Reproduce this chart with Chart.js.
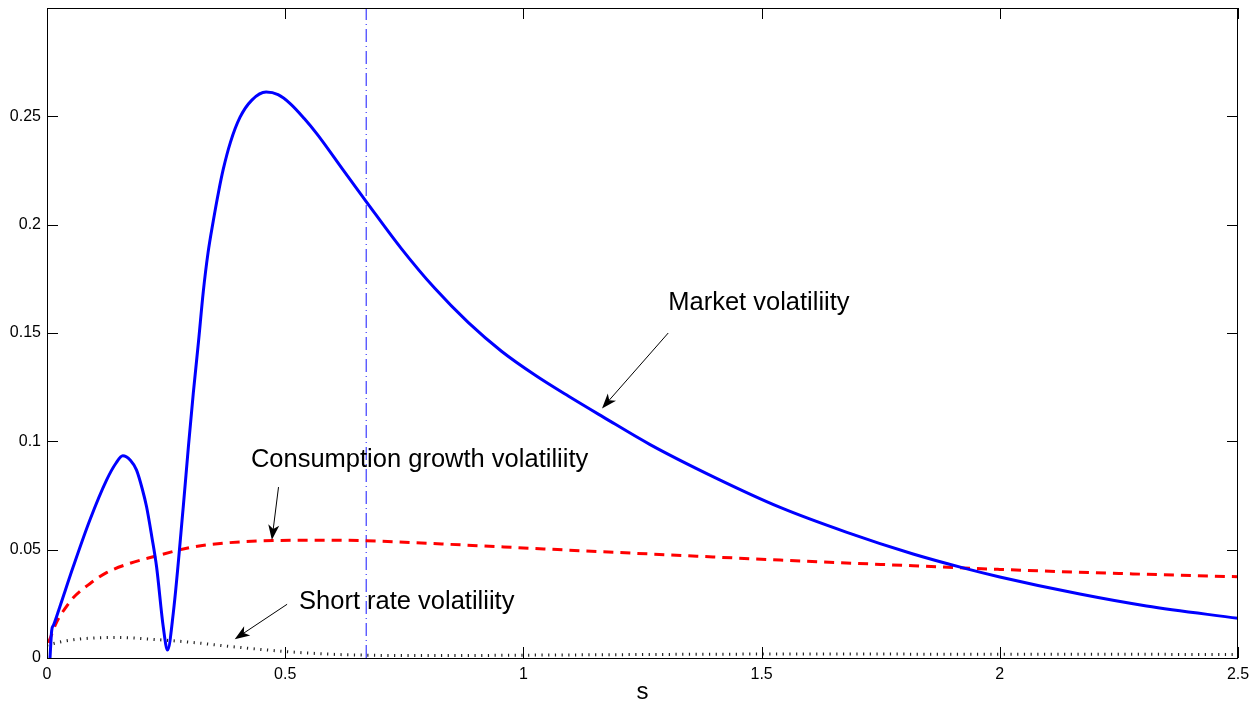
<!DOCTYPE html>
<html>
<head>
<meta charset="utf-8">
<script src="https://cdn.jsdelivr.net/npm/chart.js@4/dist/chart.umd.min.js"></script>
<style>
  html, body { margin: 0; padding: 0; background: #fff; }
  canvas { display: block; }
</style>
</head>
<body>
<canvas id="chart" width="1251" height="707"></canvas>
<script>
// values
const marketS = [0.0063, 0.0098, 0.014, 0.027, 0.055, 0.09, 0.125, 0.145, 0.159, 0.175, 0.188, 0.2, 0.209, 0.22, 0.23, 0.244, 0.253, 0.265, 0.286, 0.297, 0.307, 0.318, 0.328, 0.338, 0.349, 0.36, 0.37, 0.385, 0.405, 0.43, 0.46, 0.485, 0.511, 0.54, 0.567, 0.623, 0.672, 0.743, 0.814, 0.884, 0.954, 1.025, 1.095, 1.167, 1.266, 1.4, 1.539, 1.679, 1.818, 1.923, 2.0, 2.168, 2.308, 2.5];
const marketVol = [0, 0.0126, 0.0153, 0.0237, 0.0421, 0.0637, 0.0821, 0.0900, 0.0933, 0.0913, 0.0867, 0.078, 0.0698, 0.056, 0.0421, 0.0144, 0.0037, 0.0206, 0.0698, 0.098, 0.122, 0.146, 0.169, 0.187, 0.2017, 0.215, 0.2256, 0.238, 0.2495, 0.2575, 0.2612, 0.2600, 0.2558, 0.2490, 0.2418, 0.2248, 0.2101, 0.1892, 0.1706, 0.1549, 0.1416, 0.1305, 0.1208, 0.1113, 0.0985, 0.0835, 0.0695, 0.058, 0.048, 0.0416, 0.0374, 0.0295, 0.024, 0.0183];

const consS = [0.003, 0.02, 0.04, 0.055, 0.09, 0.125, 0.174, 0.223, 0.3, 0.37, 0.475, 0.58, 0.67, 0.88, 1.0, 1.266, 1.539, 1.75, 2.0, 2.25, 2.5];
const consVol = [0.007, 0.0165, 0.0235, 0.0278, 0.0343, 0.0394, 0.0437, 0.0467, 0.051, 0.053, 0.0542, 0.0544, 0.0541, 0.0521, 0.0508, 0.048, 0.0452, 0.0432, 0.0409, 0.039, 0.0375];

const shortS = [0, 0.03, 0.07, 0.146, 0.216, 0.3, 0.39, 0.5, 0.6, 0.67, 0.8, 1.0, 1.25, 1.5, 1.75, 2.0, 2.25, 2.5];
const shortVol = [0.006, 0.0075, 0.0088, 0.0095, 0.0087, 0.0073, 0.0052, 0.003, 0.0017, 0.0013, 0.0011, 0.0013, 0.0016, 0.0018, 0.0018, 0.0017, 0.0017, 0.0016];

const vlineS = [0.67, 0.67];
const vlineY = [0, 0.3];

const xTicks = [0, 0.5, 1, 1.5, 2, 2.5];
const yTicks = [0, 0.05, 0.1, 0.15, 0.2, 0.25];

// annotation text and arrows in data units: [text, textS, textY, fromS, fromY, tipS, tipY]
const notes = [
  ['Market volatiliity', 1.304, 0.1637, 1.304, 0.150, 1.165, 0.1152],
  ['Consumption growth volatiliity', 0.428, 0.0913, 0.486, 0.0789, 0.472, 0.0545],
  ['Short rate volatiliity', 0.529, 0.0258, 0.504, 0.0248, 0.394, 0.0087]
];

const FONT = 'Liberation Sans, Arial, Helvetica, sans-serif';

function pts(xs, ys) {
  return xs.map((x, i) => ({ x: x, y: ys[i] }));
}

function arrow(ctx, x0, y0, x1, y1) {
  const a = Math.atan2(y1 - y0, x1 - x0);
  const len = 15, half = 5.5, notch = 11;
  ctx.beginPath();
  ctx.moveTo(x0, y0);
  ctx.lineTo(x1 - Math.cos(a) * notch, y1 - Math.sin(a) * notch);
  ctx.stroke();
  const bx = x1 - Math.cos(a) * len, by = y1 - Math.sin(a) * len;
  ctx.beginPath();
  ctx.moveTo(x1, y1);
  ctx.lineTo(bx + Math.sin(a) * half, by - Math.cos(a) * half);
  ctx.lineTo(x1 - Math.cos(a) * notch, y1 - Math.sin(a) * notch);
  ctx.lineTo(bx - Math.sin(a) * half, by + Math.cos(a) * half);
  ctx.closePath();
  ctx.fill();
}

const frame = {
  id: 'frame',
  afterDraw(chart) {
    const ctx = chart.ctx, area = chart.chartArea;
    const xs = chart.scales.x, ys = chart.scales.y;
    ctx.save();
    ctx.strokeStyle = '#000';
    ctx.lineWidth = 1;
    ctx.strokeRect(area.left + 0.5, area.top + 0.5, area.right - area.left - 1, area.bottom - area.top);
    ctx.beginPath();
    xTicks.forEach(v => {
      const px = Math.round(xs.getPixelForValue(v)) + 0.5;
      ctx.moveTo(px, area.bottom); ctx.lineTo(px, area.bottom - 11);
      ctx.moveTo(px, area.top); ctx.lineTo(px, area.top + 11);
    });
    yTicks.forEach(v => {
      const py = Math.round(ys.getPixelForValue(v)) + 0.5;
      ctx.moveTo(area.left, py); ctx.lineTo(area.left + 11, py);
      ctx.moveTo(area.right, py); ctx.lineTo(area.right - 11, py);
    });
    ctx.stroke();

    ctx.fillStyle = '#000';
    ctx.font = '25.5px ' + FONT;
    ctx.textBaseline = 'middle';
    ctx.textAlign = 'left';
    notes.forEach(n => {
      ctx.fillText(n[0], xs.getPixelForValue(n[1]), ys.getPixelForValue(n[2]));
      arrow(ctx, xs.getPixelForValue(n[3]), ys.getPixelForValue(n[4]),
                 xs.getPixelForValue(n[5]), ys.getPixelForValue(n[6]));
    });

    ctx.textAlign = 'center';
    ctx.font = '24px ' + FONT;
    ctx.fillText('s', (area.left + area.right) / 2, 692);
    ctx.restore();
  }
};

new Chart(document.getElementById('chart'), {
  type: 'line',
  data: {
    datasets: [
      {
        data: pts(marketS, marketVol),
        borderColor: '#0000ff',
        borderWidth: 3,
        cubicInterpolationMode: 'monotone',
        order: 0
      },
      {
        data: pts(consS, consVol),
        borderColor: '#ff0000',
        borderWidth: 3,
        borderDash: [10, 7],
        cubicInterpolationMode: 'monotone',
        order: 1
      },
      {
        data: pts(shortS, shortVol),
        borderColor: '#222',
        borderWidth: 3,
        borderDash: [1.2, 5.5],
        cubicInterpolationMode: 'monotone',
        order: 2
      },
      {
        data: pts(vlineS, vlineY),
        borderColor: '#1515ff',
        borderWidth: 1,
        borderDash: [13, 4, 1, 4],
        order: 3
      }
    ]
  },
  options: {
    responsive: false,
    animation: false,
    events: [],
    elements: { point: { radius: 0 } },
    layout: { padding: { left: 0, top: 8, right: 13, bottom: 0 } },
    plugins: { legend: { display: false }, tooltip: { enabled: false } },
    scales: {
      x: {
        type: 'linear',
        min: 0,
        max: 2.5,
        grid: { display: false, drawTicks: false },
        border: { display: false },
        afterFit(scale) {
          scale.height = 49;
          scale.paddingLeft = 0;
          scale.paddingRight = 0;
        },
        afterBuildTicks(scale) { scale.ticks = xTicks.map(v => ({ value: v })); },
        ticks: {
          padding: 7,
          color: '#000',
          font: { family: FONT, size: 16 },
          maxRotation: 0,
          callback: v => String(+v.toFixed(1))
        }
      },
      y: {
        min: 0,
        max: 0.3,
        grid: { display: false, drawTicks: false },
        border: { display: false },
        afterFit(scale) {
          scale.width = 47;
          scale.paddingTop = 0;
          scale.paddingBottom = 0;
        },
        afterBuildTicks(scale) { scale.ticks = yTicks.map(v => ({ value: v })); },
        ticks: {
          padding: 6,
          color: '#000',
          font: { family: FONT, size: 16 },
          callback: v => String(+v.toFixed(2))
        }
      }
    }
  },
  plugins: [frame]
});
</script>
</body>
</html>
